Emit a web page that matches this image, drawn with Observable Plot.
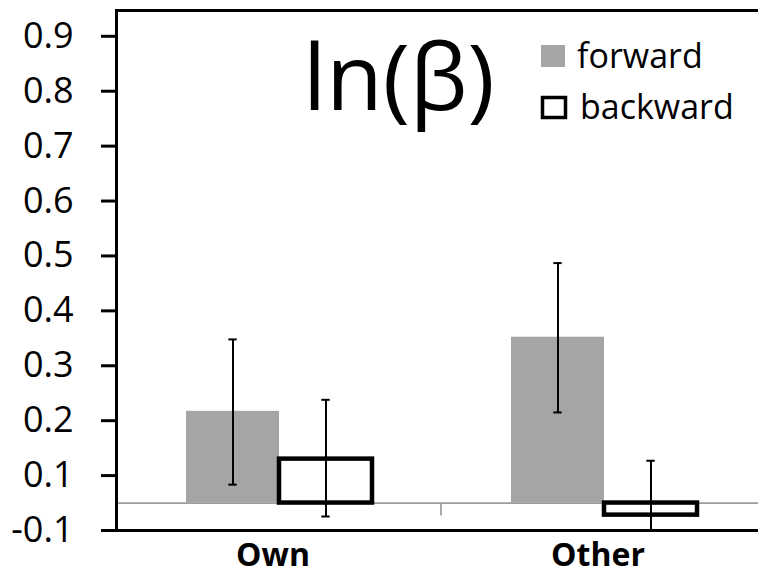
<!DOCTYPE html>
<html>
<head>
<meta charset="utf-8">
<script src="https://cdn.jsdelivr.net/npm/d3@7"></script>
<script src="https://cdn.jsdelivr.net/npm/@observablehq/plot@0.6"></script>
<style>
  html, body { margin: 0; padding: 0; background: white; overflow: hidden; }
  #chart { width: 758px; height: 576px; }
</style>
</head>
<body>
<div id="chart"></div>
<script>
// Categories on the x axis and the two series drawn in each of them
const categories = ["Own", "Other"];
const series = ["forward", "backward"];

// Mean ln(β) and the ends of the error bars, one value per category
const forwardMean = [0.217, 0.352];
const forwardLow = [0.067, 0.215];
const forwardHigh = [0.348, 0.487];
const backwardMean = [0.130, -0.044];
const backwardLow = [-0.049, -0.24];
const backwardHigh = [0.238, 0.127];

// Y axis ticks and their labels (there is no tick at zero)
const yTicks = [-0.1, 0.1, 0.2, 0.3, 0.4, 0.5, 0.6, 0.7, 0.8, 0.9];
const yTickLabels = ["-0.1", "0.1", "0.2", "0.3", "0.4", "0.5", "0.6", "0.7", "0.8", "0.9"];
const yTop = 0.947;

const title = "ln(β)";

const rows = [];
categories.forEach((c, i) => {
  rows.push({cat: c, series: "forward", mean: forwardMean[i], low: forwardLow[i], high: forwardHigh[i]});
  rows.push({cat: c, series: "backward", mean: backwardMean[i], low: backwardLow[i], high: backwardHigh[i]});
});
const fwd = rows.filter(d => d.series === "forward");
const bwd = rows.filter(d => d.series === "backward");

const W = 758, H = 576;
const mTop = 10, mBottom = 46, mLeft = 116, mRight = -8;
const yBottom = H - mBottom;
// the segment below 0.1 is drawn at its own (compressed) spacing, as on the axis
const tickStep = (yBottom - mTop) / ((yTop - 0.1) / 0.1 + 1);
const fontFamily = "'Open Sans', sans-serif";
const grey = "#a5a5a5";
const baseGrey = "#9c9c9c";

const plot = Plot.plot({
  width: W,
  height: H,
  marginTop: mTop,
  marginBottom: mBottom,
  marginLeft: mLeft,
  marginRight: mRight,
  style: {fontFamily, background: "white", color: "black"},
  fx: {domain: categories, padding: 0, axis: null},
  x: {domain: series, paddingInner: 0, paddingOuter: 0.738, axis: null},
  y: {
    type: "linear",
    domain: [-0.1, 0.1, yTop],
    range: [yBottom, yBottom - tickStep, mTop],
    axis: null
  },
  marks: [
    Plot.ruleY([0], {stroke: baseGrey, strokeWidth: 1.7}),
    Plot.barY(fwd, {fx: "cat", x: "series", y: "mean", fill: grey, insetLeft: 0, insetRight: 0}),
    Plot.barY(bwd, {fx: "cat", x: "series", y: "mean", fill: "white", stroke: "black", strokeWidth: 4.5, insetLeft: 0, insetRight: 0}),
    Plot.ruleX(rows, {fx: "cat", x: "series", y1: "low", y2: "high", stroke: "black", strokeWidth: 2, clip: true}),
    Plot.tickY(rows, {fx: "cat", x: "series", y: "high", stroke: "black", strokeWidth: 2, insetLeft: 42.3, insetRight: 42.3, clip: true}),
    Plot.tickY(rows, {fx: "cat", x: "series", y: "low", stroke: "black", strokeWidth: 2, insetLeft: 42.3, insetRight: 42.3, clip: true}),
    Plot.frame({anchor: "top", stroke: "black", strokeWidth: 3, strokeLinecap: "square"}),
    Plot.frame({anchor: "bottom", stroke: "black", strokeWidth: 3, strokeLinecap: "square"}),
    Plot.frame({anchor: "left", facetAnchor: "left", stroke: "black", strokeWidth: 3, strokeLinecap: "square"}),
    Plot.axisY(yTicks, {
      tickSize: 15, tickPadding: 28, strokeWidth: 3, fontSize: 36,
      tickFormat: d => yTickLabels[yTicks.indexOf(d)]
    }),
    Plot.axisFx({anchor: "bottom", tickSize: 0, tickPadding: 13, fontSize: 32, fontWeight: "bold", dx: -6, label: null})
  ]
});

document.getElementById("chart").appendChild(plot);

// category separator tick on the zero line
const svg = d3.select(plot);
const fxScale = plot.scale("fx");
const yScale = plot.scale("y");
const y0 = yScale.apply(0);
categories.slice(1).forEach(c => {
  const x = fxScale.apply(c);
  svg.append("line")
    .attr("x1", x).attr("x2", x)
    .attr("y1", y0).attr("y2", y0 + 13)
    .attr("stroke", baseGrey).attr("stroke-width", 1.7);
});

// title inside the plot area
svg.append("text")
  .attr("x", 303).attr("y", 110)
  .attr("text-anchor", "start")
  .attr("font-family", fontFamily)
  .attr("font-size", 92)
  .attr("fill", "black")
  .text(title);

// legend
const legend = svg.append("g")
  .attr("font-family", fontFamily)
  .attr("font-size", 34)
  .attr("text-anchor", "start");
series.forEach((s, i) => {
  const top = 45 + i * 51;
  if (s === "forward") {
    legend.append("rect").attr("x", 541).attr("y", top).attr("width", 24).attr("height", 22).attr("fill", grey);
  } else {
    legend.append("rect").attr("x", 542.5).attr("y", top + 1.5).attr("width", 23).attr("height", 20)
      .attr("fill", "white").attr("stroke", "black").attr("stroke-width", 3.5);
  }
  legend.append("text").attr("x", i === 0 ? 577 : 580).attr("y", top + 23).attr("fill", "black").text(s);
});
</script>
</body>
</html>
